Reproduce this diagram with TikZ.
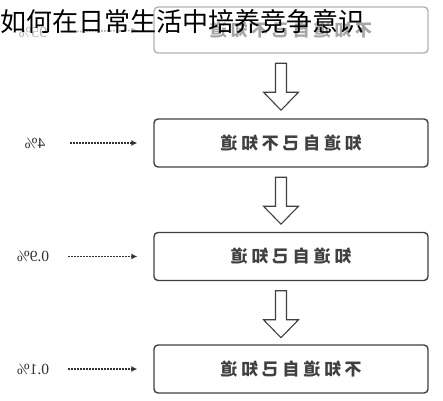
\documentclass[tikz,border=0pt]{standalone}
\usepackage{fontspec}
\usepackage{graphicx}
\usetikzlibrary{calc,arrows.meta}
\newfontfamily\cjk{Noto Sans CJK SC}
\newfontfamily\cjkwide[LetterSpace=22]{Noto Sans CJK SC}
\newfontfamily\numfont{Liberation Serif}

\tikzset{
	stagebox/.style={draw=black!75, line width=1.4pt, rounded corners=4pt, minimum width=274pt, minimum height=48pt, inner sep=0pt, text=black!75, font=\cjkwide\bfseries\fontsize{17}{17}\selectfont},
	pctlabel/.style={minimum width=40pt, inner sep=0pt, text=black!80, font=\numfont\fontsize{15.5}{15.5}\selectfont},
	dotarrow/.style={dash pattern=on 1.4pt off 1.6pt, line width=1.8pt, draw=black!80, -{Latex[length=6pt,width=6pt]}, shorten <=15pt, shorten >=16pt},
	hollow/.style={draw=black!75, line width=1.1pt, fill=white, line join=miter},
	faded/.style={draw=black!30, text=black!35}
}

\begin{document}
\begin{tikzpicture}[x=1pt,y=1pt]
			\useasboundingbox (0,0) rectangle (443,400);
			\node[stagebox, faded, minimum height=46pt] (box0) at (291,370) {\reflectbox{不知道自己不知道}};
			\node[stagebox] (box1) at (291,257) {\reflectbox{知道自己不知道}};
			\node[stagebox] (box2) at (291,143.5) {\reflectbox{知道自己知道}};
			\node[stagebox] (box3) at (291,31) {\reflectbox{不知道自己知道}};
			\node[pctlabel, text=black!30] (lbl0) at (33,368) {\reflectbox{95\%}};
			\node[pctlabel] (lbl1) at (35,257) {\reflectbox{4\%}};
			\node[pctlabel] (lbl2) at (33,143.5) {\reflectbox{0.9\%}};
			\node[pctlabel] (lbl3) at (33,31) {\reflectbox{0.1\%}};
			\draw[dotarrow, draw=black!30] (lbl0.east) -- (box0.west);
			\draw[dotarrow] (lbl1.east) -- (box1.west);
			\draw[dotarrow] (lbl2.east) -- (box2.west);
			\draw[dotarrow] (lbl3.east) -- (box3.west);
			\draw[hollow] ($(box0.south)+(-15.5,-9.5)$) -- ++(0,-29) -- ++(-12,0) -- ++(17.5,-18) -- ++(17.5,18) -- ++(-12,0) -- ++(0,29) -- cycle;
			\draw[hollow] ($(box1.south)+(-15.5,-9.5)$) -- ++(0,-29) -- ++(-12,0) -- ++(17.5,-18) -- ++(17.5,18) -- ++(-12,0) -- ++(0,29) -- cycle;
			\draw[hollow] ($(box2.south)+(-15.5,-9.5)$) -- ++(0,-29) -- ++(-12,0) -- ++(17.5,-18) -- ++(17.5,18) -- ++(-12,0) -- ++(0,29) -- cycle;
			\node[anchor=west, inner sep=0pt, font=\cjk\fontsize{26}{26}\selectfont] (title) at (0,378) {如何在日常生活中培养竞争意识};
			\end{tikzpicture}
\end{document}
